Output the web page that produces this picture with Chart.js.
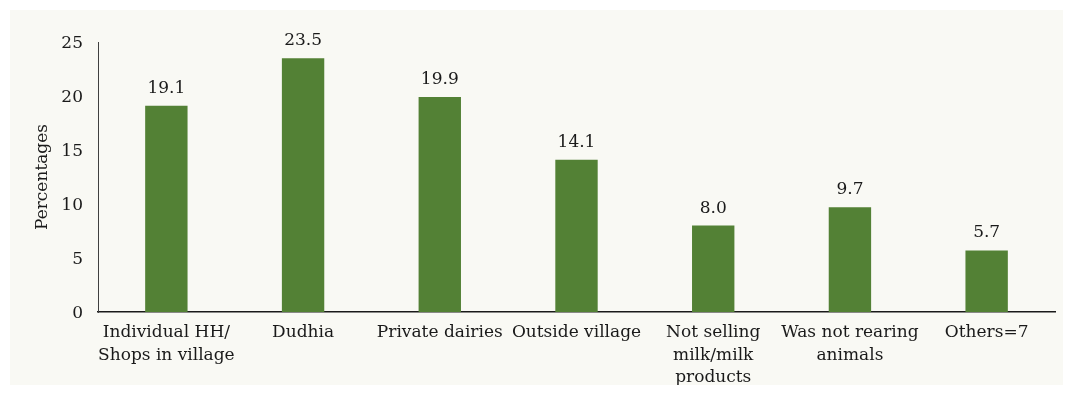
<!DOCTYPE html>
<html>
<head>
<meta charset="utf-8">
<script src="https://cdn.jsdelivr.net/npm/chart.js@4"></script>
<style>
  html, body { margin: 0; padding: 0; background: #ffffff; }
  .panel {
    position: absolute; left: 10px; top: 10px;
    width: 1053px; height: 375px;
    background: #f9f9f4;
  }
  canvas { display: block; }
</style>
</head>
<body>
<div class="panel">
  <canvas id="barChart" width="1053" height="375"></canvas>
</div>
<script>
const categories = [
  ['Individual HH/', 'Shops in village'],
  'Dudhia',
  'Private dairies',
  'Outside village',
  ['Not selling', 'milk/milk', 'products'],
  ['Was not rearing', 'animals'],
  'Others=7'
];
const percentages = [19.1, 23.5, 19.9, 14.1, 8.0, 9.7, 5.7];
const yTicks = [0, 5, 10, 15, 20, 25];

const fontFamily = '"DejaVu Serif", "Liberation Serif", serif';

// value labels above bars
const valueLabels = {
  id: 'valueLabels',
  afterDatasetsDraw(chart) {
    const ctx = chart.ctx;
    const meta = chart.getDatasetMeta(0);
    ctx.save();
    ctx.font = '17px ' + fontFamily;
    ctx.fillStyle = '#1a1a1a';
    ctx.textAlign = 'center';
    ctx.textBaseline = 'bottom';
    meta.data.forEach((bar, i) => {
      ctx.fillText(percentages[i].toFixed(1), bar.x, bar.y - 9);
    });
    ctx.restore();
  }
};

const ctx = document.getElementById('barChart').getContext('2d');
new Chart(ctx, {
  type: 'bar',
  data: {
    labels: categories,
    datasets: [{
      label: 'Percentages',
      data: percentages,
      backgroundColor: '#538135',
      borderWidth: 0,
      barPercentage: 0.31,
      categoryPercentage: 1.0
    }]
  },
  options: {
    responsive: false,
    animation: false,
    layout: { padding: { top: 32, right: 8, left: 22, bottom: 0 } },
    plugins: {
      legend: { display: false },
      tooltip: { enabled: false }
    },
    scales: {
      x: {
        grid: { display: false, drawTicks: false },
        border: { display: true, color: '#1a1a1a', width: 1.5 },
        ticks: {
          color: '#1a1a1a',
          font: { family: fontFamily, size: 17, lineHeight: 1.3 },
          padding: 10,
          maxRotation: 0,
          autoSkip: false
        },
        afterFit(scale) { scale.height = 73; }
      },
      y: {
        min: 0,
        max: 25,
        afterBuildTicks(scale) { scale.ticks = yTicks.map(v => ({ value: v })); },
        grid: { display: false, drawTicks: false },
        border: { display: true, color: '#404040', width: 1 },
        ticks: {
          color: '#1a1a1a',
          font: { family: fontFamily, size: 17 },
          padding: 15,
          labelOffset: 2
        },
        title: {
          display: true,
          text: 'Percentages',
          color: '#1a1a1a',
          font: { family: fontFamily, size: 17 },
          padding: 0
        },
        afterFit(scale) { scale.width = 66; }
      }
    }
  },
  plugins: [valueLabels]
});
</script>
</body>
</html>
